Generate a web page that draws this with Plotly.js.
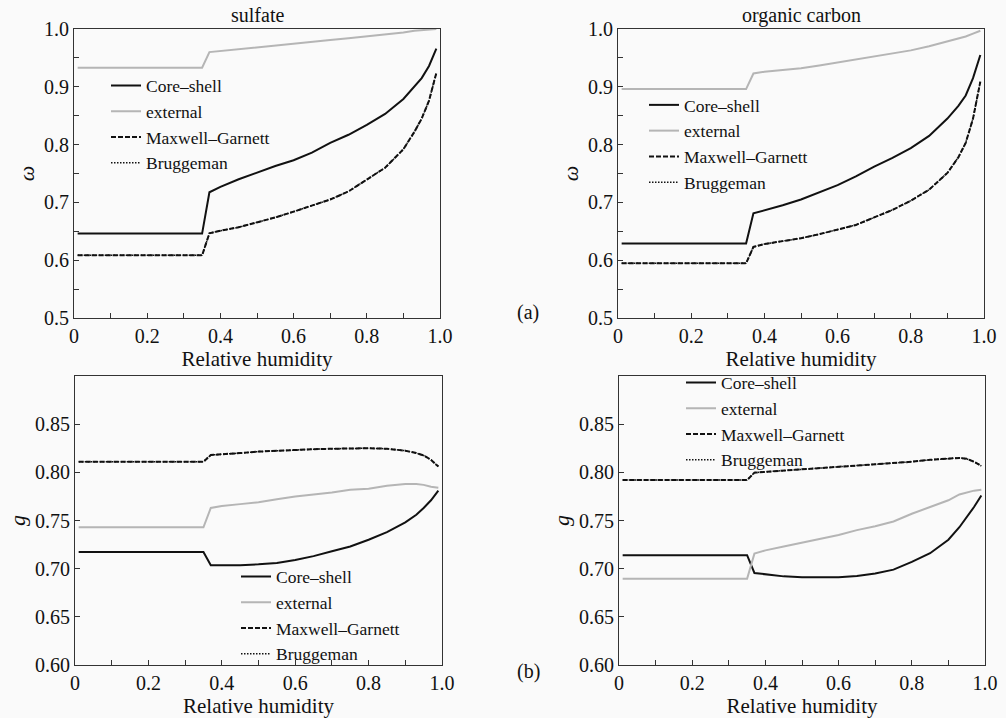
<!DOCTYPE html>
<html>
<head>
<meta charset="utf-8">
<script src="https://cdn.plot.ly/plotly-3.0.1.min.js"></script>
<style>html,body{margin:0;padding:0;background:#fafafa;}</style>
</head>
<body>
<div id="chart" style="width:1006px;height:718px;"></div>
<script>
// Relative humidity sample points (shared by all series)
const rh = [0.01, 0.35, 0.37, 0.40, 0.45, 0.50, 0.55, 0.60, 0.65, 0.70, 0.75, 0.80, 0.85, 0.90, 0.93, 0.95, 0.97, 0.99];

const seriesNames = ['Core–shell', 'external', 'Maxwell–Garnett', 'Bruggeman'];
const panelTitles = ['sulfate', 'organic carbon'];

// (a) single scattering albedo, sulfate
const sulfW_core = [0.646, 0.646, 0.7175, 0.727, 0.740, 0.752, 0.763, 0.773, 0.786, 0.803, 0.817, 0.834, 0.853, 0.879, 0.900, 0.915, 0.936, 0.966];
const sulfW_ext  = [0.933, 0.933, 0.960, 0.962, 0.965, 0.968, 0.971, 0.975, 0.978, 0.981, 0.984, 0.987, 0.990, 0.994, 0.997, 0.998, 0.999, 1.000];
const sulfW_mg   = [0.6085, 0.6085, 0.6465, 0.651, 0.657, 0.665, 0.674, 0.684, 0.694, 0.705, 0.719, 0.739, 0.760, 0.792, 0.822, 0.845, 0.876, 0.924];
const sulfW_br   = [0.6085, 0.6085, 0.6465, 0.651, 0.657, 0.665, 0.674, 0.684, 0.694, 0.705, 0.719, 0.739, 0.760, 0.792, 0.822, 0.845, 0.876, 0.924];

// (a) single scattering albedo, organic carbon
const ocW_core = [0.629, 0.629, 0.681, 0.686, 0.695, 0.705, 0.717, 0.730, 0.745, 0.762, 0.777, 0.794, 0.815, 0.845, 0.867, 0.885, 0.915, 0.955];
const ocW_ext  = [0.896, 0.896, 0.923, 0.926, 0.929, 0.932, 0.937, 0.942, 0.947, 0.952, 0.957, 0.963, 0.970, 0.978, 0.983, 0.987, 0.992, 0.997];
const ocW_mg   = [0.5946, 0.5946, 0.623, 0.628, 0.633, 0.638, 0.645, 0.653, 0.661, 0.674, 0.687, 0.703, 0.722, 0.751, 0.778, 0.803, 0.845, 0.909];
const ocW_br   = [0.5946, 0.5946, 0.623, 0.628, 0.633, 0.638, 0.645, 0.653, 0.661, 0.674, 0.687, 0.703, 0.722, 0.751, 0.778, 0.803, 0.845, 0.909];

// (b) asymmetry factor, sulfate
const sulfG_core = [0.7174, 0.7174, 0.7035, 0.7035, 0.7035, 0.7045, 0.706, 0.709, 0.713, 0.718, 0.723, 0.730, 0.738, 0.748, 0.756, 0.763, 0.771, 0.781];
const sulfG_ext  = [0.743, 0.743, 0.763, 0.765, 0.767, 0.769, 0.772, 0.775, 0.777, 0.779, 0.782, 0.783, 0.786, 0.788, 0.788, 0.787, 0.785, 0.784];
const sulfG_mg   = [0.811, 0.811, 0.818, 0.819, 0.820, 0.8215, 0.8225, 0.823, 0.824, 0.8245, 0.825, 0.825, 0.8245, 0.8225, 0.820, 0.8175, 0.813, 0.806];
const sulfG_br   = [0.811, 0.811, 0.818, 0.819, 0.820, 0.8215, 0.8225, 0.823, 0.824, 0.8245, 0.825, 0.825, 0.8245, 0.8225, 0.820, 0.8175, 0.813, 0.806];

// (b) asymmetry factor, organic carbon
const ocG_core = [0.714, 0.714, 0.6955, 0.694, 0.692, 0.691, 0.691, 0.691, 0.6925, 0.695, 0.699, 0.707, 0.716, 0.730, 0.743, 0.753, 0.764, 0.776];
const ocG_ext  = [0.6896, 0.6896, 0.7156, 0.719, 0.723, 0.727, 0.731, 0.735, 0.740, 0.744, 0.749, 0.757, 0.764, 0.771, 0.777, 0.779, 0.781, 0.782];
const ocG_mg   = [0.792, 0.792, 0.7997, 0.8005, 0.802, 0.803, 0.8045, 0.806, 0.807, 0.808, 0.8095, 0.811, 0.813, 0.8145, 0.815, 0.814, 0.811, 0.8066];
const ocG_br   = [0.792, 0.792, 0.7997, 0.8005, 0.802, 0.803, 0.8045, 0.806, 0.807, 0.808, 0.8095, 0.811, 0.813, 0.8145, 0.815, 0.814, 0.811, 0.8066];

// tick labels
const xTickVals = [0, 0.2, 0.4, 0.6, 0.8, 1.0];
const xTickText = ['0', '0.2', '0.4', '0.6', '0.8', '1.0'];
const wTickVals = [0.5, 0.6, 0.7, 0.8, 0.9, 1.0];
const wTickText = ['0.5', '0.6', '0.7', '0.8', '0.9', '1.0'];
const gTickVals = [0.60, 0.65, 0.70, 0.75, 0.80, 0.85];
const gTickText = ['0.60', '0.65', '0.70', '0.75', '0.80', '0.85'];

const FONT = '"Liberation Serif", "Times New Roman", serif';
const FS = 20;
const LFS = 17.5;
const styles = [
  {color: '#111', width: 2, dash: 'solid'},
  {color: '#b5b5b5', width: 2, dash: 'solid'},
  {color: '#111', width: 2, dash: '5px,2px'},
  {color: '#111', width: 1.5, dash: '1.5px,1.5px'}
];

const panels = [
  {xa: 'x', ya: 'y', leg: 'legend', data: [sulfW_core, sulfW_ext, sulfW_mg, sulfW_br]},
  {xa: 'x2', ya: 'y2', leg: 'legend2', data: [ocW_core, ocW_ext, ocW_mg, ocW_br]},
  {xa: 'x3', ya: 'y3', leg: 'legend3', data: [sulfG_core, sulfG_ext, sulfG_mg, sulfG_br]},
  {xa: 'x4', ya: 'y4', leg: 'legend4', data: [ocG_core, ocG_ext, ocG_mg, ocG_br]}
];

const traces = [];
panels.forEach(p => {
  p.data.forEach((ys, i) => {
    traces.push({
      x: rh, y: ys, type: 'scatter', mode: 'lines',
      name: seriesNames[i], xaxis: p.xa, yaxis: p.ya, legend: p.leg,
      line: {color: styles[i].color, width: styles[i].width, dash: styles[i].dash},
      hoverinfo: 'skip'
    });
  });
});

const W = 1006, H = 718;
const px = v => v / W;
const py = v => 1 - v / H;

function xaxis(l, r, anchor) {
  return {
    domain: [px(l), px(r)], anchor: anchor, range: [0, 1.0],
    tickvals: xTickVals, ticktext: xTickText,
    ticks: 'inside', ticklen: 5, tickcolor: '#333', tickwidth: 1,
    minor: {ticks: 'inside', dtick: 0.1, tick0: 0, ticklen: 5, tickcolor: '#333'},
    showline: true, linecolor: '#333', linewidth: 1, mirror: true,
    showgrid: false, zeroline: false,
    tickfont: {family: FONT, size: FS, color: '#111'},
    title: {text: 'Relative humidity', font: {family: FONT, size: 21, color: '#111'}, standoff: 1}
  };
}
function yaxis(t, b, anchor, kind) {
  const isW = kind === 'w';
  const ax = {
    domain: [py(b), py(t)], anchor: anchor,
    range: isW ? [0.5, 1.0] : [0.6, 0.9],
    tickvals: isW ? wTickVals : gTickVals, ticktext: isW ? wTickText : gTickText,
    ticks: 'inside', ticklen: 5, tickcolor: '#333', tickwidth: 1,
    showline: true, linecolor: '#333', linewidth: 1, mirror: true,
    showgrid: false, zeroline: false,
    tickfont: {family: FONT, size: FS, color: '#111'},
    title: {text: isW ? '<i>ω</i>' : '<i>g</i>', font: {family: FONT, size: 22, color: '#111'}, standoff: 3}
  };
  if (isW) ax.minor = {ticks: 'inside', dtick: 0.05, tick0: 0.5, ticklen: 5, tickcolor: '#333'};
  return ax;
}

function legend(textX, rowY) {
  return {
    x: px(textX - 40), y: py(rowY - 17), xanchor: 'left', yanchor: 'top',
    bgcolor: 'rgba(0,0,0,0)', borderwidth: 0, tracegroupgap: 0,
    font: {family: FONT, size: LFS, color: '#111'}, itemclick: false, itemdoubleclick: false
  };
}

const layout = {
  width: W, height: H,
  margin: {l: 0, r: 0, t: 0, b: 0},
  paper_bgcolor: '#fafafa', plot_bgcolor: '#fafafa',
  showlegend: true,
  xaxis: xaxis(74, 440, 'y'),
  yaxis: yaxis(29, 318, 'x', 'w'),
  xaxis2: xaxis(618, 984, 'y2'),
  yaxis2: yaxis(29, 318, 'x2', 'w'),
  xaxis3: xaxis(75, 442, 'y3'),
  yaxis3: yaxis(376, 665, 'x3', 'g'),
  xaxis4: xaxis(619, 985, 'y4'),
  yaxis4: yaxis(376, 665, 'x4', 'g'),
  legend: legend(146, 84.5),
  legend2: legend(684, 104),
  legend3: legend(276, 575.5),
  legend4: legend(721, 381.5),
  annotations: [
    {text: panelTitles[0], x: px(257), y: py(15), xref: 'paper', yref: 'paper', showarrow: false,
     font: {family: FONT, size: FS, color: '#111'}, xanchor: 'center', yanchor: 'middle'},
    {text: panelTitles[1], x: px(801), y: py(15), xref: 'paper', yref: 'paper', showarrow: false,
     font: {family: FONT, size: FS, color: '#111'}, xanchor: 'center', yanchor: 'middle'},
    {text: '(a)', x: px(528), y: py(312), xref: 'paper', yref: 'paper', showarrow: false,
     font: {family: FONT, size: FS, color: '#111'}, xanchor: 'center', yanchor: 'middle'},
    {text: '(b)', x: px(528), y: py(671), xref: 'paper', yref: 'paper', showarrow: false,
     font: {family: FONT, size: FS, color: '#111'}, xanchor: 'center', yanchor: 'middle'}
  ]
};

Plotly.newPlot('chart', traces, layout, {displayModeBar: false, staticPlot: true});
</script>
</body>
</html>
